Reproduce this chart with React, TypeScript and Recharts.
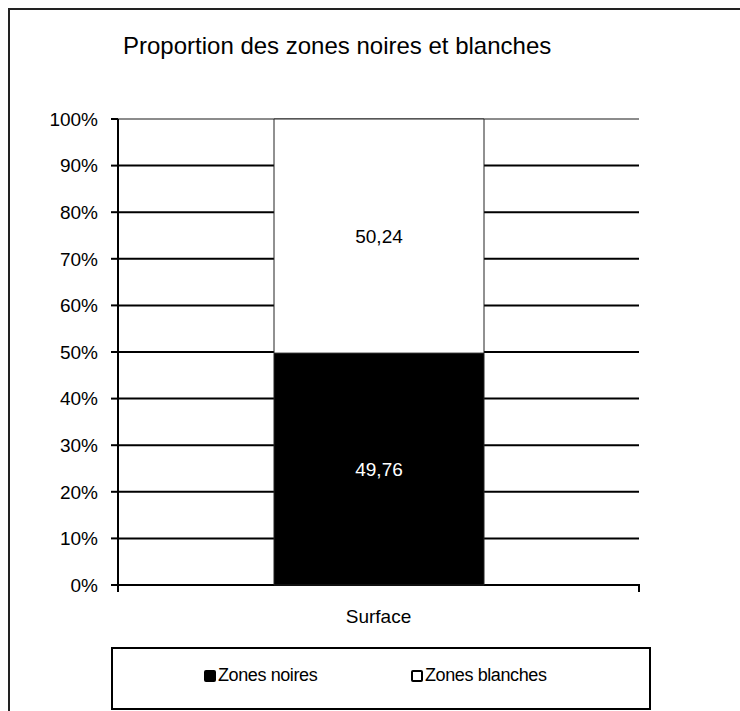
import { BarChart, Bar, XAxis, YAxis, CartesianGrid, LabelList } from 'recharts';

const categories = ['Surface'];
const zonesNoires = [49.76];
const zonesBlanches = [50.24];
const yTicks = [0, 10, 20, 30, 40, 50, 60, 70, 80, 90, 100];

const seriesList = [
  { key: 'noires', name: 'Zones noires', fill: '#000000', labelColor: '#ffffff' },
  { key: 'blanches', name: 'Zones blanches', fill: '#ffffff', labelColor: '#000000' },
];

const data = categories.map((name, i) => ({
  name,
  noires: zonesNoires[i],
  blanches: zonesBlanches[i],
}));

const font = '"Liberation Sans", Arial, sans-serif';
const X_TICK_GAP = 25;

const formatValue = (v: any) => String(v).replace('.', ',');

// top gridline (100%) is grey like the plot border, the others black
const GridLine = (props: any) => {
  const { x1, x2, y1, y2 } = props;
  const isTop = y1 < 125;
  return (
    <line
      x1={x1}
      x2={x2}
      y1={y1}
      y2={y2}
      stroke={isTop ? '#8c8c8c' : '#000'}
      strokeWidth={2}
    />
  );
};

// category label plus the little marks at the edges of the band (Excel style)
const CategoryTick = (props: any) => {
  const { x, y, payload } = props;
  const half = payload?.offset ?? 0;
  const axisY = y - X_TICK_GAP;
  return (
    <g>
      {half > 0 && (
        <>
          <line x1={x - half} x2={x - half} y1={axisY - 1} y2={axisY + 7} stroke="#000" strokeWidth={2} />
          <line x1={x + half} x2={x + half} y1={axisY - 1} y2={axisY + 7} stroke="#000" strokeWidth={2} />
        </>
      )}
      <text x={x} y={y} dy="0.71em" textAnchor="middle" fill="#000" fontSize={19} fontFamily={font}>
        {payload.value}
      </text>
    </g>
  );
};

const App = () => {
  return (
    <div style={{ position: 'absolute', left: 0, top: 0, width: 740, height: 711, overflow: 'hidden', background: '#fff', fontFamily: font }}>
      <div style={{ position: 'absolute', left: 8, top: 8, width: 760, height: 720, border: '2px solid #222' }} />
      <div
        style={{
          position: 'absolute',
          left: 123,
          top: 34,
          fontSize: 24,
          lineHeight: '24px',
          whiteSpace: 'nowrap',
        }}
      >
        Proportion des zones noires et blanches
      </div>

      <div style={{ position: 'absolute', left: 0, top: 0 }}>
        <BarChart
          width={740}
          height={711}
          data={data}
          margin={{ top: 119, right: 101, bottom: 86, left: 58 }}
        >
          <CartesianGrid vertical={false} horizontal={GridLine} />
          <XAxis
            dataKey="name"
            axisLine={false}
            tickLine={false}
            tickSize={0}
            tickMargin={X_TICK_GAP}
            height={40}
            tick={CategoryTick}
          />
          <YAxis
            domain={[0, 100]}
            ticks={yTicks}
            width={60}
            tickFormatter={(v) => `${v}%`}
            axisLine={{ stroke: '#000', strokeWidth: 2 }}
            tickLine={{ stroke: '#000', strokeWidth: 2 }}
            tickSize={7}
            tickMargin={13}
            tick={{ fill: '#000', fontSize: 19, fontFamily: font }}
          />
          <YAxis
            yAxisId="right"
            orientation="right"
            domain={[0, 100]}
            width={0}
            tick={false}
            tickLine={false}
            axisLine={{ stroke: '#8c8c8c', strokeWidth: 2 }}
          />
          {seriesList.map((s) => (
            <Bar
              key={s.key}
              dataKey={s.key}
              name={s.name}
              stackId="a"
              fill={s.fill}
              stroke="#222"
              strokeWidth={1}
              barSize={210}
              isAnimationActive={false}
            >
              <LabelList
                dataKey={s.key}
                position="center"
                formatter={formatValue}
                fill={s.labelColor}
                fontSize={19}
                fontFamily={font}
              />
            </Bar>
          ))}
        </BarChart>
      </div>

      <div
        style={{
          position: 'absolute',
          left: 111,
          top: 647,
          width: 536,
          height: 59,
          border: '2px solid #000',
          fontSize: 18,
        }}
      >
        {seriesList.map((s, i) => (
          <div
            key={s.key}
            style={{
              position: 'absolute',
              left: i === 0 ? 91 : 298,
              top: 16,
              display: 'flex',
              alignItems: 'center',
              whiteSpace: 'nowrap',
            }}
          >
            <span
              style={{
                display: 'inline-block',
                width: 8,
                height: 8,
                background: s.fill,
                border: '2px solid #000',
                borderRadius: 2,
                marginRight: 2,
              }}
            />
            <span style={{ letterSpacing: -0.4 }}>{s.name}</span>
          </div>
        ))}
      </div>
    </div>
  );
};

export default App;
